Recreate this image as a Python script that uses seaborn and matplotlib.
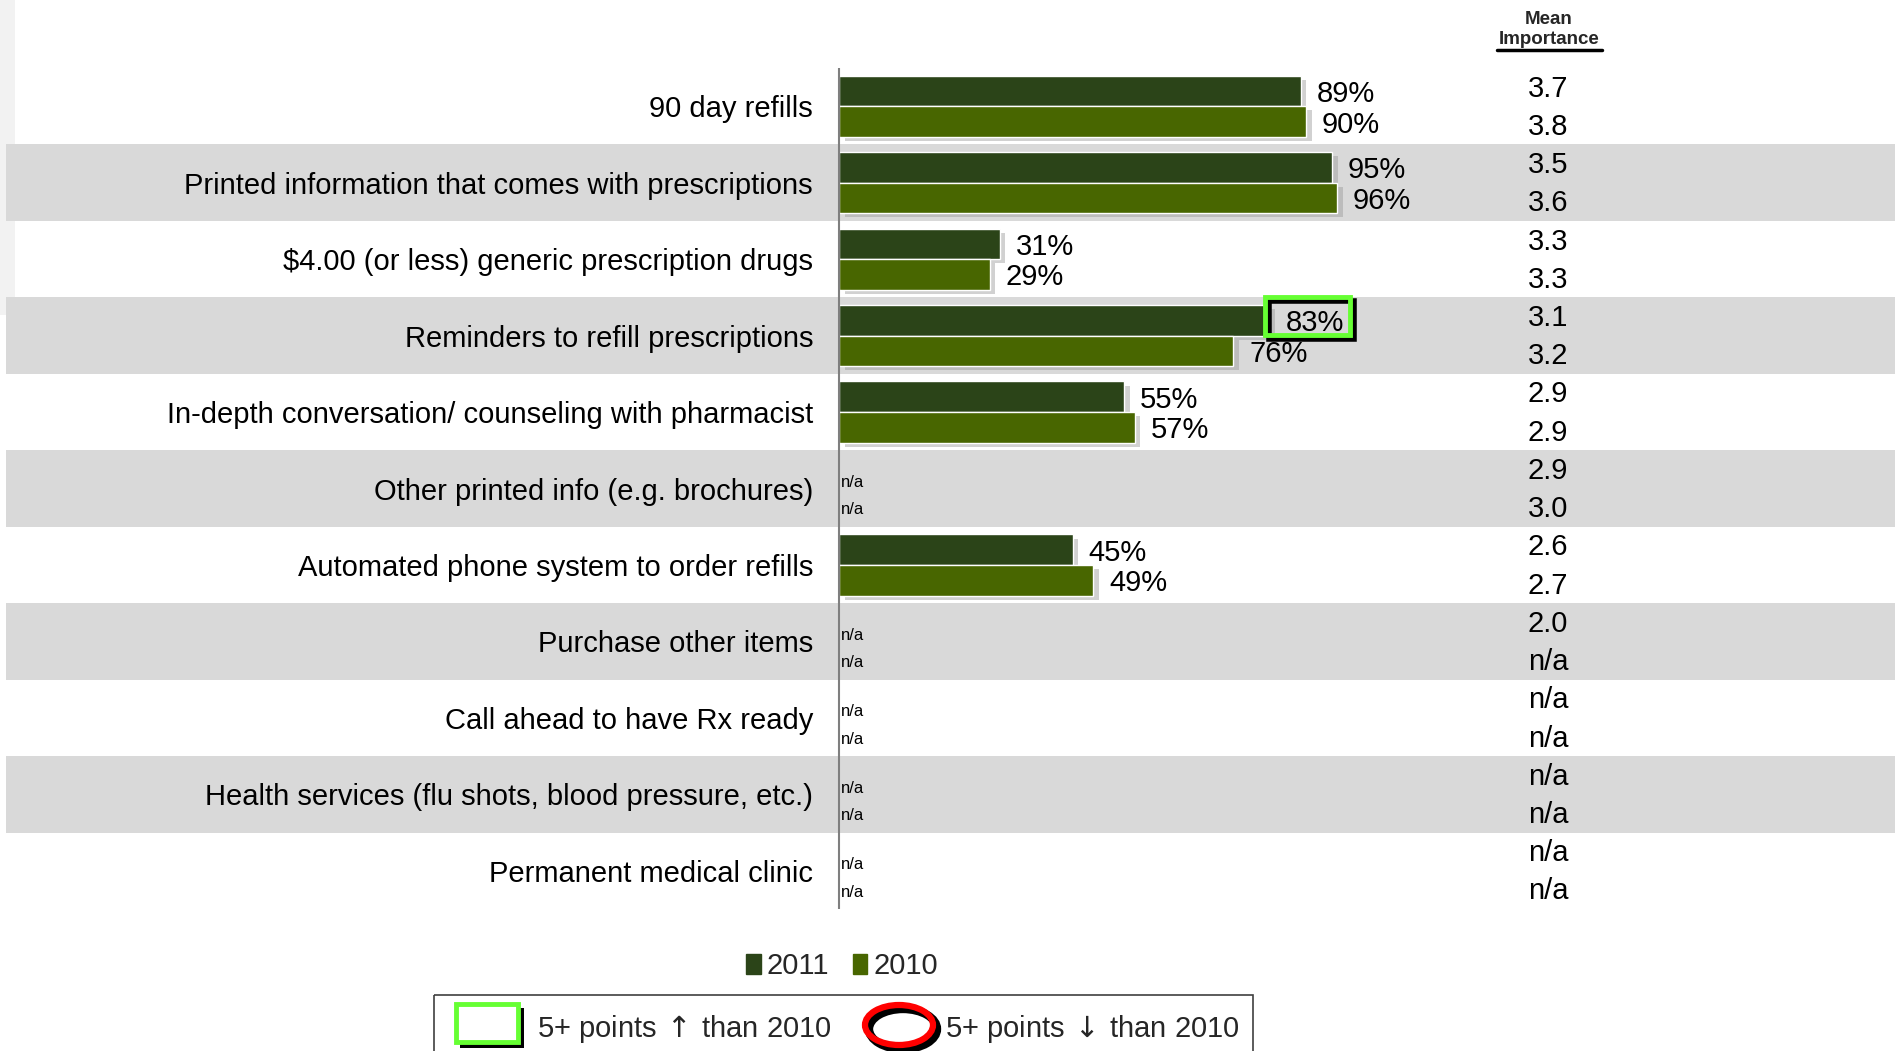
import numpy as np
import pandas as pd
import matplotlib
matplotlib.use("Agg")
import matplotlib.pyplot as plt
import matplotlib.patches as mpatches
import matplotlib.patheffects as pe
import seaborn as sns

# Data
items = [
    "90 day refills",
    "Printed information that comes with prescriptions",
    "$4.00 (or less) generic prescription drugs",
    "Reminders to refill prescriptions",
    "In-depth conversation/ counseling with pharmacist",
    "Other printed info (e.g. brochures)",
    "Automated phone system to order refills",
    "Purchase other items",
    "Call ahead to have Rx ready",
    "Health services (flu shots, blood pressure, etc.)",
    "Permanent medical clinic",
]
pct_2011 = [89, 95, 31, 83, 55, np.nan, 45, np.nan, np.nan, np.nan, np.nan]
pct_2010 = [90, 96, 29, 76, 57, np.nan, 49, np.nan, np.nan, np.nan, np.nan]
mean_2011 = [3.7, 3.5, 3.3, 3.1, 2.9, 2.9, 2.6, 2.0, np.nan, np.nan, np.nan]
mean_2010 = [3.8, 3.6, 3.3, 3.2, 2.9, 3.0, 2.7, np.nan, np.nan, np.nan, np.nan]
years = ["2011", "2010"]
up_flags = [None, None, None, "2011", None, None, None, None, None, None, None]

DARK = "#2b4418"
GREEN = "#486600"
BAND = "#d9d9d9"
FONT = ["Liberation Sans", "DejaVu Sans"]

df = pd.DataFrame({
    "item": items * 2,
    "pct": pct_2011 + pct_2010,
    "year": [years[0]] * len(items) + [years[1]] * len(items),
})

sns.set_theme(style="white")
plt.rcParams["font.family"] = FONT
plt.rcParams["mathtext.fontset"] = "dejavusans"

W, H = 1895, 1051
fig = plt.figure(figsize=(W / 100, H / 100), dpi=100)
fig.patch.set_facecolor("white")

# faint slide edge at the left
fig.add_artist(mpatches.Rectangle((0, 0.7), 15 / W, 0.3, transform=fig.transFigure,
                                  color="#f2f2f2", lw=0, zorder=-1))

# pixel geometry of the bar area
x0_px, px_per_unit = 839, 5.19
top_px, bot_px = 68, 909
ax_left = 6
ax = fig.add_axes([ax_left / W, (H - bot_px) / H, (W - ax_left) / W, (bot_px - top_px) / H])
ax.set_facecolor("none")

sns.barplot(data=df, x="pct", y="item", hue="year", order=items, hue_order=years,
            palette=[DARK, GREEN], orient="h", errorbar=None, saturation=1,
            width=0.8, legend=False, ax=ax)

for cont in ax.containers:
    for p in cont:
        p.set_path_effects([pe.SimplePatchShadow(offset=(4, -3), shadow_rgbFace="#999999", alpha=0.45),
                            pe.Normal()])
        p.set_zorder(2)

# alternating bands
for i in range(len(items)):
    if i % 2 == 1:
        ax.axhspan(i - 0.5, i + 0.5, color=BAND, zorder=0, lw=0)

ax.set_xlim((ax_left - x0_px) / px_per_unit, (W - x0_px) / px_per_unit)
ax.set_ylim(len(items) - 0.5, -0.5)
ax.set_xticks([])
ax.set_yticks([])
ax.set_xlabel("")
ax.set_ylabel("")
for s in ax.spines.values():
    s.set_visible(False)
ax.plot([0, 0], [-0.5, len(items) - 0.5], color="#7f7f7f", lw=1.5, zorder=3)

mean_x = (1548 - x0_px) / px_per_unit
for i, name in enumerate(items):
    ax.text(-5, i + 0.04, name, ha="right", va="center", fontsize=21, color="black")
    for k, (vals, means, dy, my) in enumerate([(pct_2011, mean_2011, -0.16, -0.23),
                                                (pct_2010, mean_2010, 0.24, 0.27)]):
        v = vals[i]
        if np.isnan(v):
            ax.text(0.4, i + (-0.08 if k == 0 else 0.28), "n/a", ha="left", va="center",
                    fontsize=12, color="black")
        else:
            ax.text(v + 3, i + dy, f"{v:.0f}%", ha="left", va="center", fontsize=21, color="black")
            if up_flags[i] == years[k]:
                r = mpatches.Rectangle((v - 1, i - 0.51), 16.5, 0.5, fill=False,
                                       ec="#66ff33", lw=3.5, zorder=4,
                                       path_effects=[pe.SimpleLineShadow(offset=(3, -3), shadow_color="black",
                                                                         alpha=1, linewidth=4), pe.Normal()])
                ax.add_patch(r)
        m = means[i]
        ax.text(mean_x, i + my, "n/a" if np.isnan(m) else f"{m:.1f}", ha="center", va="center",
                fontsize=21, color="black")

# overlay axes in pixel coordinates for header and legends
ov = fig.add_axes([0, 0, 1, 1])
ov.set_xlim(0, W)
ov.set_ylim(H, 0)
ov.axis("off")
ov.set_zorder(5)

ov.text(1549, 20, "Mean", ha="center", va="center", fontsize=13.5, fontweight="bold")
ov.text(1549, 40, "Importance", ha="center", va="center", fontsize=13.5, fontweight="bold")
ov.plot([1497, 1602], [50, 50], color="black", lw=2.5)

# year legend
handles = [mpatches.Patch(color=DARK, label=years[0]), mpatches.Patch(color=GREEN, label=years[1])]
fig.legend(handles=handles, loc="center", bbox_to_anchor=(842 / W, 1 - 966 / H), ncol=2,
           frameon=False, fontsize=21, handlelength=0.5, handleheight=0.7,
           handletextpad=0.2, columnspacing=0.8)

# change legend box
ov.add_patch(mpatches.Rectangle((434, 995), 819, 70, fill=False, ec="#404040", lw=1.2))
ov.add_patch(mpatches.Rectangle((460, 1008), 64, 40, fc="black", lw=0))
ov.add_patch(mpatches.Rectangle((456, 1004), 62, 38, fc="white", ec="#66ff33", lw=3.5))
ov.text(537, 1029, r"5+ points$\,\uparrow\,$than 2010", ha="left", va="center", fontsize=21)
ov.add_patch(mpatches.Ellipse((903, 1029), 68, 40, fill=False, ec="black", lw=6))
ov.add_patch(mpatches.Ellipse((899, 1025), 68, 40, fill=False, ec="#ff0000", lw=4.5))
ov.text(945, 1029, r"5+ points$\,\downarrow\,$than 2010", ha="left", va="center", fontsize=21)

fig.savefig("out.png", dpi=100)
